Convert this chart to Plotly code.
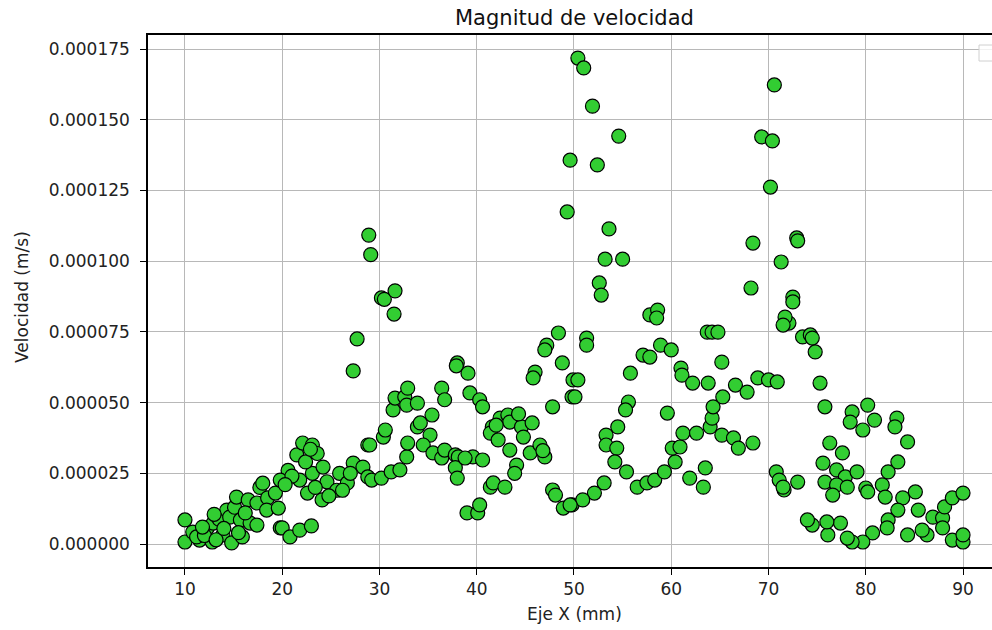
import numpy as np
import plotly.graph_objects as go

# Position along the X axis (mm)
x_mm = [
    10, 10, 10.8, 11.5, 12.3, 12.8, 12.9, 13.5, 13.9, 14.3, 14.8, 14.6, 15.1, 15.3, 15.7, 15.9,
    16.5, 16.7, 17.4, 17.4, 17.7, 18.0, 18.5, 18.4, 19.3, 19.6, 19.8,
    11.2, 12.0, 13.2, 14.0, 15.5, 16.2, 11.8, 13.0,
    20.0, 20.8, 21.8, 23.0, 20.6, 19.8, 21.5, 22.1, 23.1, 23.6, 21.8, 22.6, 23.1, 24.1, 24.6,
    24.2, 25.6, 25.9, 26.7, 27.3, 28.3, 28.8, 28.8, 27.7, 27.3, 28.9, 29.1,
    21.0, 22.4, 23.4, 24.8, 26.2, 27.0, 20.3, 22.9,
    30.2, 30.5, 31.6, 31.5, 29.0, 30.4, 30.6, 29.2, 30.2, 31.2, 32.1, 32.8, 32.9, 31.4, 31.6,
    32.6, 32.9, 32.8, 33.9, 33.9, 34.2, 35.4, 35.2, 34.5, 35.5, 36.4, 36.7, 36.4, 36.7,
    37.8, 38.1, 37.8, 38.0, 38.0, 37.9, 39.1, 39.3, 40.3, 40.6, 39.6, 40.6, 38.8, 39.0, 40.1,
    40.3, 41.4, 41.7, 42.9, 41.6, 41.4, 42.2, 42.4, 43.2, 43.4, 43.4, 44.1, 43.9, 44.6, 44.8,
    45.7, 45.5, 46.5, 47.0, 46.0, 45.8, 47.2, 47.0, 48.4, 48.8, 47.8, 47.8, 48.1, 48.9, 49.8,
    49.9, 49.8, 49.6, 49.3, 42.0, 44.3, 46.8,
    50.4, 51.0, 51.9, 54.6, 52.4, 53.6, 53.2, 55.0, 52.6, 52.8, 57.8, 58.6, 58.5, 51.3, 51.3,
    50.4, 50.1, 57.1, 57.8, 55.8, 55.6, 55.3, 54.5, 53.3, 53.3, 54.4, 54.2, 55.4, 56.5, 57.5,
    58.3, 59.3, 53.1, 52.1, 50.9, 49.6, 58.9, 60.0, 59.6,
    63.7, 64.2, 64.8, 65.2, 61.0, 61.1, 62.2, 63.8, 60.4, 60.1, 60.9, 61.2, 62.6, 64.0, 64.2,
    64.3, 65.3, 66.6, 67.8, 68.9, 70.0, 65.2, 66.4, 66.9, 68.4, 61.9, 63.3, 63.5, 70.8, 71.1,
    71.6, 72.1, 69.3, 70.4, 70.6, 70.2, 68.4, 68.2, 71.3, 72.9, 73.0, 72.5, 72.5, 71.7, 71.5,
    73.5, 74.3, 74.5, 74.8, 75.3, 70.9, 75.8, 78.6, 78.4, 79.7, 80.2, 80.9, 83.2, 83.0, 84.3,
    76.3, 77.6, 75.6, 77.0, 77.9, 79.1, 75.8, 77.0, 76.6, 78.1, 73.0, 71.5, 80.0, 80.2, 81.7,
    82.0, 82.3, 83.3, 83.8, 85.1, 85.4, 83.3, 82.3, 82.2, 80.7, 79.7, 78.6, 78.1, 77.4, 76.1,
    76.0, 74.5, 74.0, 84.3, 86.3, 85.8, 86.9, 87.9, 87.9, 88.1, 88.9, 90.0, 88.9, 90.0, 90.0,
]

# Velocity magnitude, in micrometres per second
vel_um_s = [
    8.5, 0.7, 4.2, 1.4, 5.7, 0.7, 7.4, 8.8, 3.2, 12.0, 0.4, 9.5, 13.0, 16.6, 8.5, 2.5,
    15.6, 7.4, 6.7, 14.5, 20.0, 21.5, 16.3, 12.0, 18.0, 12.7, 5.7,
    2.5, 3.0, 1.5, 5.5, 4.0, 11.0, 6.0, 10.5,
    5.7, 2.5, 4.9, 6.4, 26.0, 22.6, 31.5, 35.7, 35.0, 32.0, 22.6, 18.0, 25.0, 15.6, 22.0,
    27.2, 19.0, 25.0, 21.6, 28.6, 27.2, 23.7, 35.0, 72.5, 61.2, 109.2, 102.3,
    24.0, 29.0, 20.0, 17.0, 19.0, 25.0, 21.0, 33.5,
    87.0, 86.5, 89.5, 81.3, 35.0, 37.8, 40.3, 22.6, 23.3, 25.5, 26.2, 30.8, 35.7, 47.4, 51.6,
    52.0, 55.1, 49.1, 49.8, 41.4, 42.8, 45.6, 38.5, 35.0, 32.2, 30.4, 33.2, 55.1, 51.0,
    31.5, 30.8, 27.0, 23.3, 64.0, 63.0, 60.4, 53.4, 51.0, 48.5, 30.8, 29.7, 30.4, 11.0, 11.0,
    13.8, 20.1, 21.6, 20.1, 41.4, 39.2, 36.8, 44.5, 45.6, 43.1, 33.2, 27.9, 25.0, 41.4, 37.8,
    42.8, 32.2, 35.0, 30.8, 60.8, 58.7, 70.3, 68.6, 74.6, 64.0, 48.5, 19.1, 17.3, 12.7, 13.8,
    58.0, 52.0, 135.7, 117.4, 42.0, 46.0, 33.0,
    171.8, 168.3, 154.8, 144.2, 134.0, 111.4, 100.7, 100.7, 92.3, 88.0, 81.0, 82.7, 79.9, 72.8, 70.3,
    58.0, 52.0, 66.8, 66.1, 60.4, 50.2, 47.4, 41.4, 38.5, 35.0, 33.9, 29.0, 25.5, 20.1, 21.6,
    22.6, 25.5, 21.6, 18.0, 15.6, 13.8, 70.3, 68.6, 46.3,
    74.9, 74.9, 74.9, 64.3, 62.2, 59.7, 56.9, 56.9, 29.0, 33.9, 34.3, 39.2, 39.2, 41.4, 44.5,
    48.5, 52.0, 56.2, 53.7, 58.7, 58.0, 38.5, 37.5, 33.9, 35.7, 23.3, 20.1, 26.9, 25.5, 22.6,
    19.1, 78.1, 143.9, 142.5, 162.3, 126.2, 106.4, 90.5, 99.7, 108.2, 107.2, 87.3, 85.6, 80.2, 77.4,
    73.2, 73.9, 72.8, 67.9, 56.9, 57.3, 48.5, 46.7, 43.1, 40.3, 49.1, 43.8, 44.5, 41.4, 36.1,
    35.7, 32.2, 28.6, 26.2, 23.7, 25.5, 21.9, 20.9, 17.3, 20.1, 21.9, 20.1, 19.8, 18.4, 20.9,
    16.6, 25.5, 29.0, 16.3, 18.4, 12.0, 12.0, 8.5, 5.7, 3.9, 0.7, 0.7, 2.1, 7.4, 3.2,
    7.8, 6.7, 8.5, 3.2, 3.2, 4.9, 9.5, 9.2, 5.7, 13.1, 16.3, 18.0, 1.4, 0.7, 3.2,
]

x_ticks = [10, 20, 30, 40, 50, 60, 70, 80, 90]
y_ticks = [0.0, 0.000025, 0.00005, 0.000075, 0.0001, 0.000125, 0.00015, 0.000175]

vel = np.array(vel_um_s) * 1e-6

FONT = "DejaVu Sans"

fig = go.Figure()
fig.add_trace(go.Scatter(
    x=x_mm, y=vel, mode="markers",
    marker=dict(size=14, color="#32CD32", line=dict(color="black", width=1.2)),
    showlegend=False,
))

fig.update_layout(
    width=992, height=630,
    margin=dict(l=148, r=0, t=35, b=63),
    paper_bgcolor="white", plot_bgcolor="white",
    font=dict(family=FONT, size=17, color="#222222"),
    xaxis=dict(
        range=[6.2, 92.98], tickvals=x_ticks, ticktext=[str(v) for v in x_ticks],
        showgrid=True, gridcolor="#b8b8b8", gridwidth=1, zeroline=False,
        showline=True, linecolor="black", linewidth=1.5, mirror=True,
        ticks="outside", ticklen=6, tickcolor="black", tickwidth=1.2,
        tickfont=dict(family=FONT, size=17, color="#222222"),
    ),
    yaxis=dict(
        range=[-8.13e-6, 179.95e-6], tickvals=y_ticks, tickformat=".6f",
        showgrid=True, gridcolor="#b8b8b8", gridwidth=1, zeroline=False,
        showline=True, linecolor="black", linewidth=1.5,
        ticks="outside", ticklen=6, tickcolor="black", tickwidth=1.2,
        ticklabelstandoff=7,
        tickfont=dict(family=FONT, size=17, color="#222222"),
    ),
    annotations=[
        dict(text="Magnitud de velocidad", xref="paper", yref="paper",
             x=(574 - 148) / 844, y=1 + (35 - 18) / 532, xanchor="center", yanchor="middle",
             showarrow=False, font=dict(family=FONT, size=21, color="#111111")),
        dict(text="Eje X (mm)", xref="paper", yref="paper",
             x=(574 - 148) / 844, y=-(614 - 567) / 532, xanchor="center", yanchor="middle",
             showarrow=False, font=dict(family=FONT, size=17, color="#222222")),
        dict(text="Velocidad (m/s)", xref="paper", yref="paper", textangle=-90,
             x=-(148 - 22) / 844, y=(567 - 297) / 532, xanchor="center", yanchor="middle",
             showarrow=False, font=dict(family=FONT, size=17, color="#222222")),
    ],
    shapes=[
        # empty legend frame in the upper-right corner
        dict(type="rect", xref="paper", yref="paper",
             x0=(979 - 148) / 844, x1=(998 - 148) / 844,
             y0=(567 - 61) / 532, y1=(567 - 45) / 532,
             line=dict(color="#d0d0d0", width=1), fillcolor="rgba(255,255,255,0.8)"),
    ],
)

fig.write_html("out.html")
